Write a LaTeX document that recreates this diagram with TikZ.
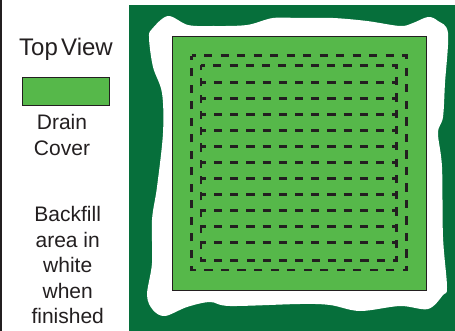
\documentclass[tikz,border=0pt]{standalone}
\usepackage{fontspec}
\setmainfont{Liberation Sans}
\definecolor{soil}{HTML}{066F3B}
\definecolor{cover}{HTML}{56B84A}
\definecolor{ink}{HTML}{231F20}
\tikzset{
  drainbox/.style={draw=ink,line width=0.9pt,fill=cover},
  pipeouter/.style={draw=ink,line width=2.8pt,dash pattern=on 8.25pt off 8.26pt,dash phase=4.1pt},
  pipeinner/.style={draw=ink,line width=2.8pt,dash pattern=on 8.1pt off 8.18pt,dash phase=4.05pt},
  pipeline/.style={draw=ink,line width=2.8pt,dash pattern=on 8.2pt off 8pt,dash phase=3.2pt},
  legend/.style={text=ink,font=\fontsize{21}{25.5}\selectfont,align=center,inner sep=0pt}
}
\begin{document}
\begin{tikzpicture}[x=1pt,y=-1pt]
\useasboundingbox (0,0) rectangle (455,331);
\fill[white] (0,0) rectangle (455,331);
\fill[ink] (0,0) rectangle (2,331);
\fill[soil] (129,5) rectangle (455,331);
\fill[white] plot[smooth cycle,tension=0.55] coordinates {
 (168,16) (188,25) (213,26) (247,25) (273,18) (300,18) (333,18) (367,21) (400,26) (413,23)
 (428,17) (438,21) (448,33) (445,83) (443,117) (438,133) (442,167) (443,237) (447,287)
 (443,295) (428,309) (400,306) (360,311) (330,305) (300,304) (230,306) (210,302) (187,307)
 (165,316) (153,310) (147,295) (152,263) (152,220) (157,187) (163,133) (162,93) (153,67)
 (149,38) (152,29)};
\node[drainbox,minimum width=254pt,minimum height=254pt,inner sep=0pt] (cover) at (299,163) {};
\path[pipeouter] (191.7,55.7) -- (406.7,55.7) -- (406.7,270) -- (191.7,270) -- cycle;
\path[pipeinner] (201,65.3) -- (396.7,65.3) -- (396.7,260.7) -- (201,260.7) -- cycle;
\foreach \y in {82.3,98.3,...,242.4}
  \path[pipeline] (201,\y) -- (396.7,\y);
\node[legend,font=\fontsize{24}{26}\selectfont,anchor=base] (title) at (66,55.5) {Top\hspace{-0.14em} View};
\node[drainbox,minimum width=86.5pt,minimum height=28pt,inner sep=0pt] (swatch) at (65.7,91) {};
\node[legend,anchor=center] (drain) at (62,134.8) {Drain\\Cover};
\node[legend,anchor=center] (backfill) at (67.7,265.2) {Backfill\\area in\\white\\when\\finished};
\end{tikzpicture}
\end{document}
